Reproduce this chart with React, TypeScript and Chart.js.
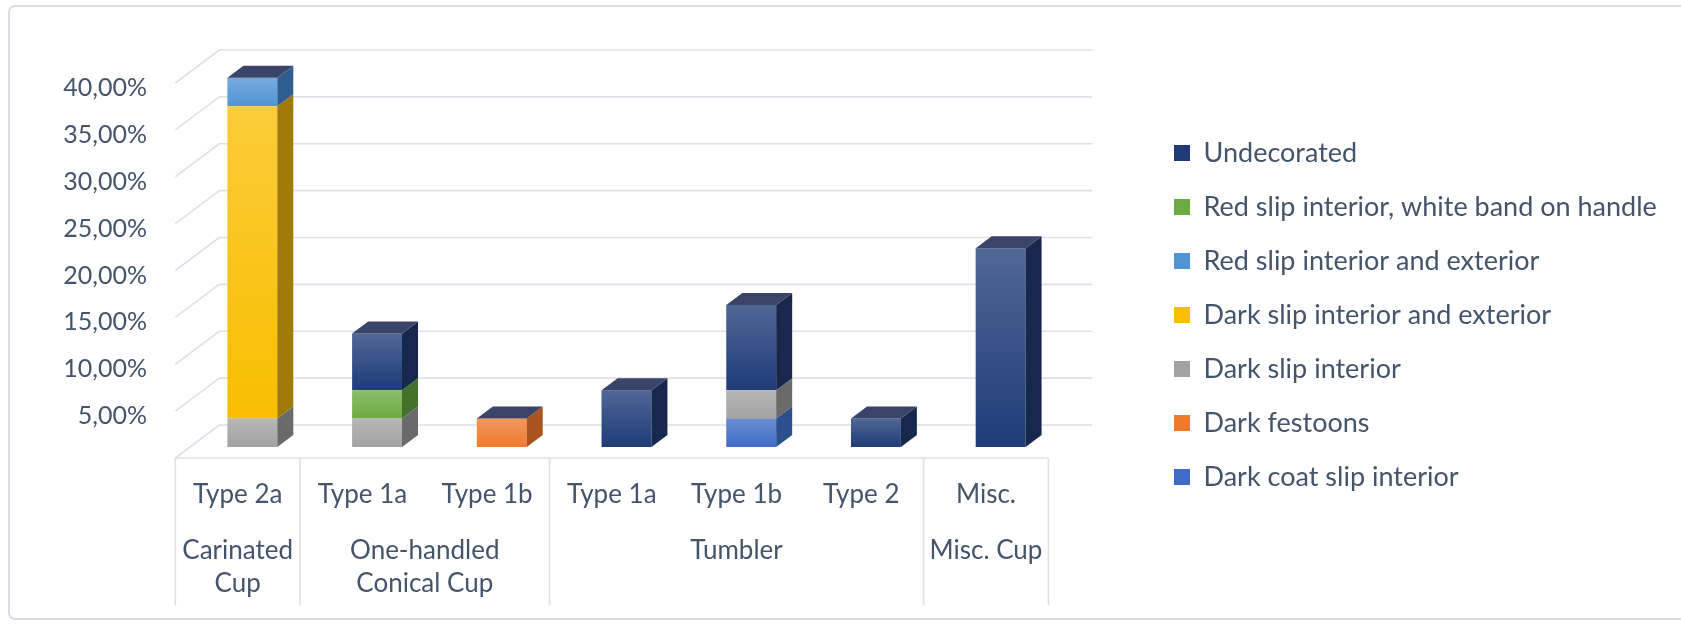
import React, { useEffect, useRef } from 'react';
import { Chart, registerables } from 'chart.js';

Chart.register(...registerables);

// ---------- data ----------
const categories = ['Type 2a', 'Type 1a', 'Type 1b', 'Type 1a', 'Type 1b', 'Type 2', 'Misc.'];
const groupLabels = [['Carinated', 'Cup'], ['One-handled', 'Conical Cup'], ['Tumbler'], ['Misc. Cup']];
const groupSizes = [1, 2, 3, 1];

// stacked bottom -> top
const darkCoatSlipInterior = [0, 0, 0, 0, 3.03, 0, 0];
const darkFestoons = [0, 0, 3.03, 0, 0, 0, 0];
const darkSlipInterior = [3.03, 3.03, 0, 0, 3.03, 0, 0];
const darkSlipInteriorExterior = [33.33, 0, 0, 0, 0, 0, 0];
const redSlipInteriorExterior = [3.03, 0, 0, 0, 0, 0, 0];
const redSlipWhiteBand = [0, 3.03, 0, 0, 0, 0, 0];
const undecorated = [0, 6.06, 0, 6.06, 9.09, 3.03, 21.21];

const yMin = 0;
const yMax = 40;
const yStep = 5;

const seriesNames = [
  'Dark coat slip interior',
  'Dark festoons',
  'Dark slip interior',
  'Dark slip interior and exterior',
  'Red slip interior and exterior',
  'Red slip interior, white band on handle',
  'Undecorated',
];
const seriesValues = [
  darkCoatSlipInterior,
  darkFestoons,
  darkSlipInterior,
  darkSlipInteriorExterior,
  redSlipInteriorExterior,
  redSlipWhiteBand,
  undecorated,
];
const frontColors = ['#3F6DC6', '#EE7A2E', '#A2A2A2', '#F9BE00', '#5094D3', '#6CAB42', '#1F3C78'];
const sideColors = ['#2C4F8E', '#A9541E', '#6A6A6A', '#A07A08', '#2F5E8E', '#43722A', '#17284F'];
const topColor = '#3A4468';
const gridColor = '#DEE1E7';
const textColor = '#44546A';

const FONT = 'Lato';
const Y_FONT = 25;
const X_FONT = 26;
const LEG_FONT = 27;
const LEG_PAD = 27;
const LEG_BOX = 16;

// 3D geometry (depth projection)
const DEPTH_X = 44;
const DEPTH_Y = 33;
const BAR_DX = 16;
const BAR_DY = 12;

const W = 1681;
const H = 624;

const threeD = {
  id: 'threeD',
  beforeDraw(chart: any) {
    const { ctx } = chart;
    ctx.save();
    ctx.strokeStyle = '#DADDE3';
    ctx.lineWidth = 2;
    ctx.beginPath();
    if (ctx.roundRect) ctx.roundRect(9, 6, W + 20, H - 11, 6);
    else ctx.rect(9, 6, W + 20, H - 11);
    ctx.stroke();
    ctx.restore();
  },
  beforeDatasetsDraw(chart: any) {
    const { ctx, chartArea: a, scales } = chart;
    const y = scales.y;
    const x = scales.x;
    const fx = -DEPTH_X / 3, fy = DEPTH_Y / 3;
    const bx = (2 * DEPTH_X) / 3, by = (-2 * DEPTH_Y) / 3;
    ctx.save();
    ctx.strokeStyle = gridColor;
    ctx.lineWidth = 1.6;
    for (let v = yMin; v <= yMax; v += yStep) {
      const py = y.getPixelForValue(v);
      ctx.beginPath();
      ctx.moveTo(a.left + bx, py + by);
      ctx.lineTo(a.right + bx, py + by);
      ctx.moveTo(a.left + fx, py + fy);
      ctx.lineTo(a.left + bx, py + by);
      ctx.stroke();
    }
    const y0 = y.getPixelForValue(0) + fy;
    ctx.beginPath();
    ctx.moveTo(a.left + fx, y0);
    ctx.lineTo(a.right + fx, y0);
    ctx.stroke();
    // group separators
    const pitch = (a.right - a.left) / categories.length;
    let idx = 0;
    const bounds = [0];
    groupSizes.forEach((s) => { idx += s; bounds.push(idx); });
    const sepBottom = x.top + 158;
    bounds.forEach((b) => {
      const px = a.left + b * pitch + fx;
      ctx.beginPath();
      ctx.moveTo(px, y0);
      ctx.lineTo(px, sepBottom);
      ctx.stroke();
    });
    ctx.restore();
  },
  afterDatasetsDraw(chart: any) {
    const { ctx, scales } = chart;
    const y = scales.y;
    ctx.save();
    chart.data.datasets.forEach((ds: any, i: number) => {
      const meta = chart.getDatasetMeta(i);
      meta.data.forEach((el: any) => {
        const p = el.getProps(['x', 'y', 'base', 'width'], true);
        const top = Math.min(p.y, p.base);
        const bot = Math.max(p.y, p.base);
        if (bot - top < 0.5) return;
        const l = p.x - p.width / 2;
        const r = p.x + p.width / 2;
        const g = ctx.createLinearGradient(0, top, 0, bot);
        g.addColorStop(0, 'rgba(255,255,255,0.22)');
        g.addColorStop(1, 'rgba(255,255,255,0)');
        ctx.fillStyle = g;
        ctx.fillRect(l, top, r - l, bot - top);
        ctx.fillStyle = sideColors[i];
        ctx.beginPath();
        ctx.moveTo(r, top);
        ctx.lineTo(r + BAR_DX, top - BAR_DY);
        ctx.lineTo(r + BAR_DX, bot - BAR_DY);
        ctx.lineTo(r, bot);
        ctx.closePath();
        ctx.fill();
      });
    });
    // top faces
    const meta0 = chart.getDatasetMeta(0);
    categories.forEach((_, j) => {
      let total = 0;
      seriesValues.forEach((s) => { total += s[j]; });
      const el = meta0.data[j];
      const p = el.getProps(['x', 'width'], true);
      const ty = y.getPixelForValue(total);
      const l = p.x - p.width / 2;
      const r = p.x + p.width / 2;
      ctx.fillStyle = topColor;
      ctx.beginPath();
      ctx.moveTo(l, ty);
      ctx.lineTo(r, ty);
      ctx.lineTo(r + BAR_DX, ty - BAR_DY);
      ctx.lineTo(l + BAR_DX, ty - BAR_DY);
      ctx.closePath();
      ctx.fill();
    });
    ctx.restore();
  },
  afterDraw(chart: any) {
    const { ctx, chartArea: a, scales } = chart;
    const x = scales.x;
    const fx = -DEPTH_X / 3;
    const pitch = (a.right - a.left) / categories.length;
    ctx.save();
    ctx.fillStyle = textColor;
    ctx.font = `${X_FONT}px ${FONT}`;
    ctx.textAlign = 'center';
    ctx.textBaseline = 'middle';
    let start = 0;
    groupLabels.forEach((lines, gi) => {
      const end = start + groupSizes[gi];
      const cx = a.left + ((start + end) / 2) * pitch + fx;
      lines.forEach((line, li) => {
        ctx.fillText(line, cx, x.top + 104 + li * 33);
      });
      start = end;
    });
    ctx.restore();
  },
};

export default function App() {
  const ref = useRef<HTMLCanvasElement | null>(null);

  useEffect(() => {
    const canvas = ref.current;
    if (!canvas) return;
    const mctx = document.createElement('canvas').getContext('2d') as CanvasRenderingContext2D;
    mctx.font = `${LEG_FONT}px ${FONT}`;
    const maxText = Math.max(...seriesNames.map((n) => mctx.measureText(n).width));
    const legendWidth = LEG_PAD + LEG_BOX + LEG_FONT / 2 + maxText + 10;
    const legendLeft = 1147;
    const padRight = Math.max(0, W - legendLeft - legendWidth);
    const yAxisWidth = 190;
    const y2Width = legendLeft - 1063;

    const chart = new Chart(canvas, {
      type: 'bar',
      data: {
        labels: categories,
        datasets: seriesNames.map((name, i) => ({
          label: name,
          data: seriesValues[i],
          backgroundColor: frontColors[i],
          borderWidth: 0,
          barPercentage: 0.4,
          categoryPercentage: 1,
          yAxisID: 'y',
        })),
      },
      options: {
        responsive: false,
        animation: false,
        layout: { padding: { top: 72, left: 0, right: padRight, bottom: 66 } },
        plugins: {
          tooltip: { enabled: false },
          legend: {
            position: 'right',
            reverse: true,
            maxWidth: 800,
            labels: {
              boxWidth: LEG_BOX,
              boxHeight: LEG_BOX,
              padding: LEG_PAD,
              color: textColor,
              font: { family: FONT, size: LEG_FONT },
            },
          },
        },
        scales: {
          x: {
            stacked: true,
            grid: { display: false, drawTicks: false },
            border: { display: false },
            ticks: {
              color: textColor,
              font: { family: FONT, size: X_FONT },
              padding: 32,
              labelOffset: -DEPTH_X / 3,
              maxRotation: 0,
              autoSkip: false,
            },
            afterFit: (s: any) => { s.height = H - 66 - 447; },
          },
          y: {
            stacked: true,
            min: yMin,
            max: yMax,
            grid: { display: false, drawTicks: false },
            border: { display: false },
            ticks: {
              stepSize: yStep,
              color: textColor,
              font: { family: FONT, size: Y_FONT },
              padding: 43,
              labelOffset: 16,
              callback: (v: any) => (Number(v) === 0 ? '' : `${Number(v).toFixed(2).replace('.', ',')}%`),
            },
            afterFit: (s: any) => { s.width = yAxisWidth; },
          },
          y2: {
            type: 'linear',
            position: 'right',
            display: true,
            grid: { display: false, drawTicks: false },
            border: { display: false },
            ticks: { display: false },
            afterFit: (s: any) => { s.width = y2Width; },
          },
        },
      },
      plugins: [threeD],
    } as any);
    return () => chart.destroy();
  }, []);

  return (
    <div style={{ position: 'fixed', left: 0, top: 0, width: W, height: H, background: '#fff' }}>
      <canvas ref={ref} width={W} height={H} style={{ display: 'block', width: W, height: H }} />
    </div>
  );
}
